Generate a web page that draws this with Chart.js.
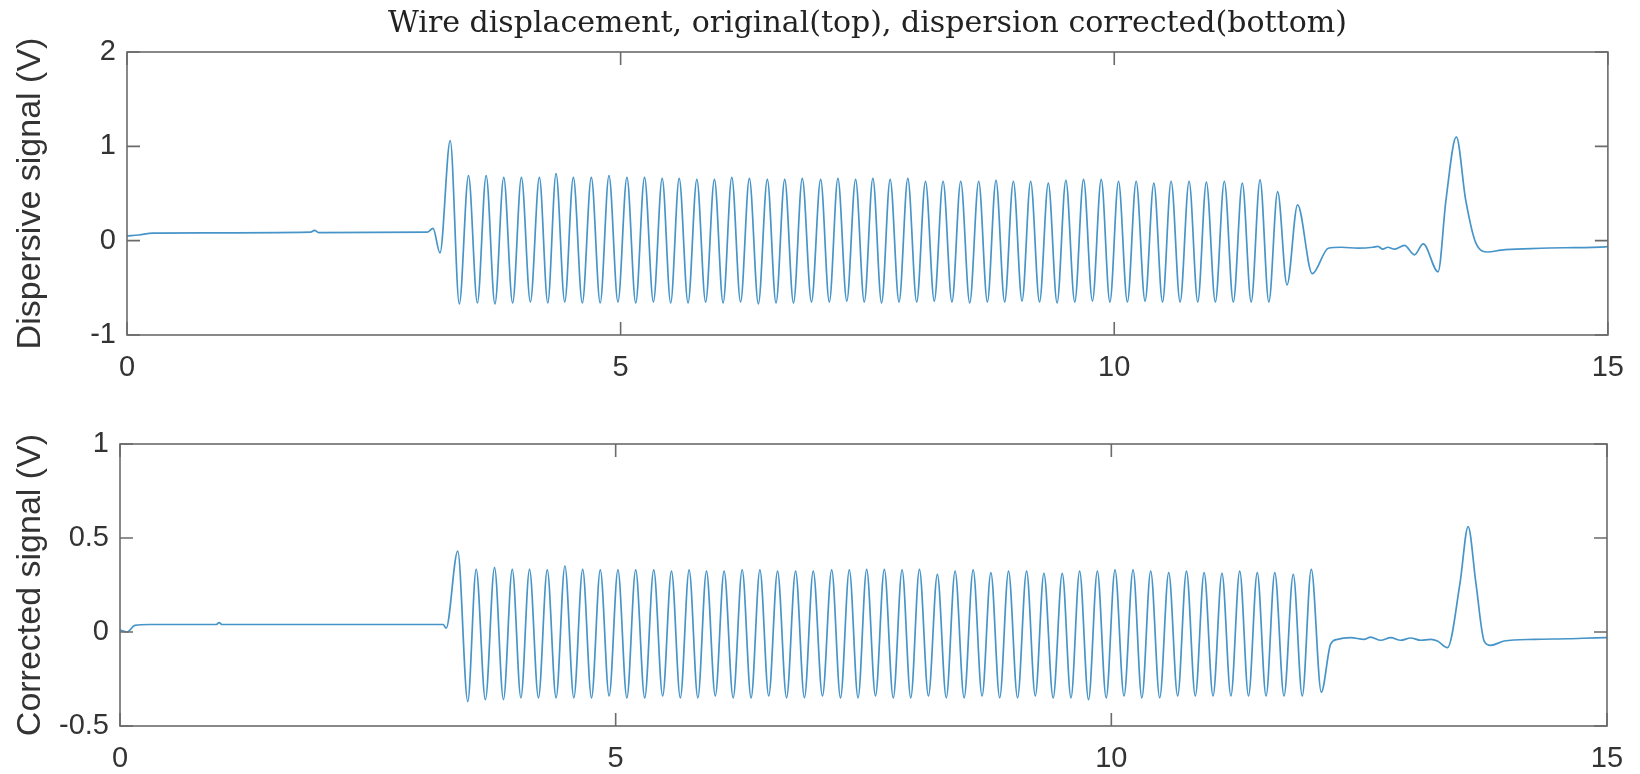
<!DOCTYPE html>
<html>
<head>
<meta charset="utf-8">
<title>Wire displacement</title>
<script src="https://cdn.jsdelivr.net/npm/chart.js@4.4.1/dist/chart.umd.min.js"></script>
<style>
  body { margin: 0; background: #fff; }
  #wrap { position: relative; width: 1640px; height: 774px; }
  canvas { position: absolute; left: 0; }
</style>
</head>
<body>
<div id="wrap">
  <canvas id="topChart" width="1640" height="400" style="top:0px"></canvas>
  <canvas id="bottomChart" width="1640" height="374" style="top:400px"></canvas>
</div>
<script>
// tick labels
var xTickValues = [0, 5, 10, 15];
var topYTicks = [-1, 0, 1, 2];
var bottomYTicks = [-0.5, 0, 0.5, 1];

// top trace: original (dispersive) signal
var topTime = [
  0, 0.12, 0.26, 1.86, 1.9, 1.94, 3.04, 3.10, 3.17, 3.274, 3.366,
  3.459, 3.549, 3.638, 3.727, 3.816, 3.906, 3.995, 4.086, 4.177, 4.262,
  4.346, 4.434, 4.521, 4.612, 4.703, 4.793, 4.882, 4.973, 5.064, 5.153,
  5.242, 5.332, 5.421, 5.507, 5.593, 5.683, 5.772, 5.861, 5.950, 6.038,
  6.126, 6.215, 6.304, 6.395, 6.486, 6.574, 6.662, 6.751, 6.840, 6.933,
  7.026, 7.114, 7.201, 7.291, 7.380, 7.468, 7.555, 7.643, 7.730, 7.820,
  7.909, 7.999, 8.088, 8.177, 8.266, 8.356, 8.445, 8.536, 8.627, 8.715,
  8.802, 8.890, 8.978, 9.066, 9.153, 9.243, 9.332, 9.421, 9.510, 9.600,
  9.689, 9.779, 9.868, 9.956, 10.043, 10.133, 10.222, 10.312, 10.401, 10.489,
  10.576, 10.667, 10.758, 10.846, 10.933, 11.024, 11.115, 11.206, 11.297, 11.387,
  11.477, 11.566, 11.655, 11.750, 11.857, 12.006,
  12.168, 12.30, 12.47, 12.62, 12.67, 12.72, 12.77, 12.84, 12.94, 13.04, 13.13,
  13.28, 13.36, 13.465, 13.56, 13.667, 13.785, 13.92, 14.22, 14.56, 14.98, 15
];
var topVolt = [
  0.05, 0.06, 0.08, 0.09, 0.11, 0.085, 0.09, 0.13, -0.13, 1.06, -0.67,
  0.69, -0.66, 0.69, -0.67, 0.67, -0.66, 0.67, -0.65, 0.67, -0.66,
  0.71, -0.65, 0.67, -0.66, 0.67, -0.66, 0.69, -0.65, 0.67, -0.66,
  0.67, -0.65, 0.66, -0.66, 0.66, -0.66, 0.65, -0.65, 0.65, -0.66,
  0.67, -0.65, 0.66, -0.67, 0.65, -0.66, 0.65, -0.66, 0.66, -0.65,
  0.65, -0.65, 0.66, -0.64, 0.65, -0.65, 0.66, -0.66, 0.65, -0.65,
  0.66, -0.65, 0.63, -0.64, 0.63, -0.65, 0.63, -0.66, 0.63, -0.65,
  0.64, -0.65, 0.63, -0.64, 0.63, -0.65, 0.61, -0.66, 0.64, -0.65,
  0.65, -0.64, 0.65, -0.65, 0.63, -0.65, 0.63, -0.64, 0.61, -0.65,
  0.63, -0.65, 0.63, -0.65, 0.62, -0.65, 0.63, -0.65, 0.61, -0.65,
  0.645, -0.65, 0.52, -0.47, 0.38, -0.35,
  -0.08, -0.07, -0.08, -0.07, -0.06, -0.09, -0.07, -0.09, -0.05, -0.15, -0.035,
  -0.33, 0.43, 1.10, 0.43, -0.035, -0.12, -0.10, -0.085, -0.075, -0.065, -0.06
];

// bottom trace: dispersion corrected signal
var bottomTime = [
  0, 0.07, 0.15, 0.30, 0.97, 1.00, 1.03, 3.26, 3.29, 3.407, 3.508,
  3.593, 3.686, 3.778, 3.868, 3.957, 4.044, 4.131, 4.221, 4.310, 4.399,
  4.488, 4.578, 4.667, 4.756, 4.845, 4.934, 5.023, 5.113, 5.202, 5.293,
  5.384, 5.474, 5.563, 5.652, 5.741, 5.829, 5.916, 6.005, 6.094, 6.185,
  6.276, 6.366, 6.455, 6.544, 6.633, 6.724, 6.815, 6.904, 6.993, 7.086,
  7.179, 7.268, 7.357, 7.445, 7.532, 7.621, 7.710, 7.800, 7.889, 7.977,
  8.064, 8.155, 8.245, 8.335, 8.424, 8.515, 8.606, 8.696, 8.785, 8.874,
  8.963, 9.054, 9.145, 9.233, 9.320, 9.413, 9.505, 9.593, 9.680, 9.770,
  9.859, 9.948, 10.037, 10.128, 10.219, 10.308, 10.397, 10.488, 10.579, 10.669,
  10.758, 10.847, 10.936, 11.026, 11.116, 11.206, 11.295, 11.384, 11.472, 11.561,
  11.649, 11.742, 11.835, 11.926, 12.017, 12.118,
  12.212, 12.280, 12.414, 12.549, 12.616, 12.717, 12.818, 12.919, 13.020, 13.121, 13.222,
  13.290, 13.391, 13.518, 13.599, 13.677, 13.761, 13.828, 13.962, 14.265, 14.603, 14.990, 15
];
var bottomVolt = [
  0.01, 0.0, 0.035, 0.04, 0.04, 0.05, 0.04, 0.04, 0.02, 0.43, -0.37,
  0.333, -0.36, 0.342, -0.36, 0.333, -0.35, 0.333, -0.35, 0.33, -0.35,
  0.351, -0.35, 0.333, -0.35, 0.33, -0.34, 0.33, -0.35, 0.33, -0.35,
  0.33, -0.34, 0.324, -0.35, 0.33, -0.35, 0.324, -0.34, 0.324, -0.35,
  0.33, -0.35, 0.33, -0.34, 0.324, -0.35, 0.324, -0.35, 0.324, -0.34,
  0.33, -0.35, 0.33, -0.35, 0.333, -0.34, 0.333, -0.35, 0.33, -0.35,
  0.333, -0.34, 0.306, -0.35, 0.324, -0.35, 0.33, -0.34, 0.316, -0.35,
  0.324, -0.35, 0.324, -0.34, 0.312, -0.35, 0.312, -0.35, 0.324, -0.36,
  0.324, -0.35, 0.33, -0.34, 0.33, -0.35, 0.324, -0.35, 0.316, -0.34,
  0.324, -0.34, 0.316, -0.34, 0.312, -0.34, 0.324, -0.34, 0.316, -0.34,
  0.316, -0.34, 0.306, -0.34, 0.333, -0.32,
  -0.065, -0.039, -0.03, -0.039, -0.027, -0.044, -0.03, -0.044, -0.032, -0.044, -0.039,
  -0.048, -0.083, 0.263, 0.561, 0.263, -0.048, -0.071, -0.048, -0.039, -0.036, -0.03, -0.03
];

var lineColor = '#4795c8';
var boxColor = '#6b6b6b';
var textColor = '#333333';

// matlab style axes: full box + inward ticks on all four sides
var matlabBox = {
  id: 'matlabBox',
  afterDraw: function(chart) {
    var ctx = chart.ctx, a = chart.chartArea;
    var x = chart.scales.x, y = chart.scales.y;
    var len = 13;
    ctx.save();
    ctx.strokeStyle = boxColor;
    ctx.lineWidth = 1.6;
    ctx.beginPath();
    x.ticks.forEach(function(t) {
      var px = x.getPixelForValue(t.value);
      ctx.moveTo(px, a.bottom); ctx.lineTo(px, a.bottom - len);
      ctx.moveTo(px, a.top); ctx.lineTo(px, a.top + len);
    });
    y.ticks.forEach(function(t) {
      var py = y.getPixelForValue(t.value);
      ctx.moveTo(a.left, py); ctx.lineTo(a.left + len, py);
      ctx.moveTo(a.right, py); ctx.lineTo(a.right - len, py);
    });
    ctx.stroke();
    ctx.strokeRect(a.left, a.top, a.right - a.left, a.bottom - a.top);
    ctx.restore();
  }
};

function toPoints(ts, vs) {
  return ts.map(function(t, i) { return {x: t, y: vs[i]}; });
}

function makeChart(id, ts, vs, yTicks, yLabel, opts) {
  var ctx = document.getElementById(id).getContext('2d');
  return new Chart(ctx, {
    type: 'line',
    data: {
      datasets: [{
        data: toPoints(ts, vs),
        borderColor: lineColor,
        borderWidth: 1.7,
        pointRadius: 0,
        fill: false,
        cubicInterpolationMode: 'monotone'
      }]
    },
    options: {
      responsive: false,
      animation: false,
      devicePixelRatio: 1,
      layout: { padding: { top: opts.padTop, right: opts.padRight, left: 0, bottom: 0 } },
      plugins: {
        legend: { display: false },
        tooltip: { enabled: false },
        title: opts.title ? {
          display: true,
          text: opts.title,
          fullSize: false,
          color: '#222',
          font: { family: 'DejaVu Serif', size: 30, weight: 'normal' },
          padding: { top: 6, bottom: 10 }
        } : { display: false }
      },
      scales: {
        x: {
          type: 'linear',
          min: 0, max: 15,
          grid: { display: false, drawTicks: false },
          border: { display: false },
          afterBuildTicks: function(s) { s.ticks = xTickValues.map(function(v) { return {value: v}; }); },
          afterFit: function(s) { s.height = opts.xHeight; },
          ticks: {
            color: textColor, padding: 16, maxRotation: 0, autoSkip: false,
            font: { family: 'Liberation Sans', size: 29 },
            callback: function(v) { return String(v); }
          }
        },
        y: {
          min: yTicks[0], max: yTicks[yTicks.length - 1],
          grid: { display: false, drawTicks: false },
          border: { display: false },
          afterBuildTicks: function(s) { s.ticks = yTicks.map(function(v) { return {value: v}; }); },
          afterFit: function(s) { s.width = opts.yWidth; },
          ticks: {
            color: textColor, padding: 11, autoSkip: false,
            font: { family: 'Liberation Sans', size: 29 },
            callback: function(v) { return String(v); }
          },
          title: {
            display: true,
            text: yLabel,
            color: textColor,
            font: { family: 'Liberation Sans', size: 34 },
            padding: { top: 10, bottom: 0 }
          }
        }
      }
    },
    plugins: [matlabBox]
  });
}

makeChart('topChart', topTime, topVolt, topYTicks, 'Dispersive signal (V)', {
  title: 'Wire displacement, original(top), dispersion corrected(bottom)',
  padTop: 0, padRight: 30, xHeight: 65, yWidth: 127
});
makeChart('bottomChart', bottomTime, bottomVolt, bottomYTicks, 'Corrected signal (V)', {
  padTop: 44, padRight: 33, xHeight: 48, yWidth: 120
});
</script>
</body>
</html>
